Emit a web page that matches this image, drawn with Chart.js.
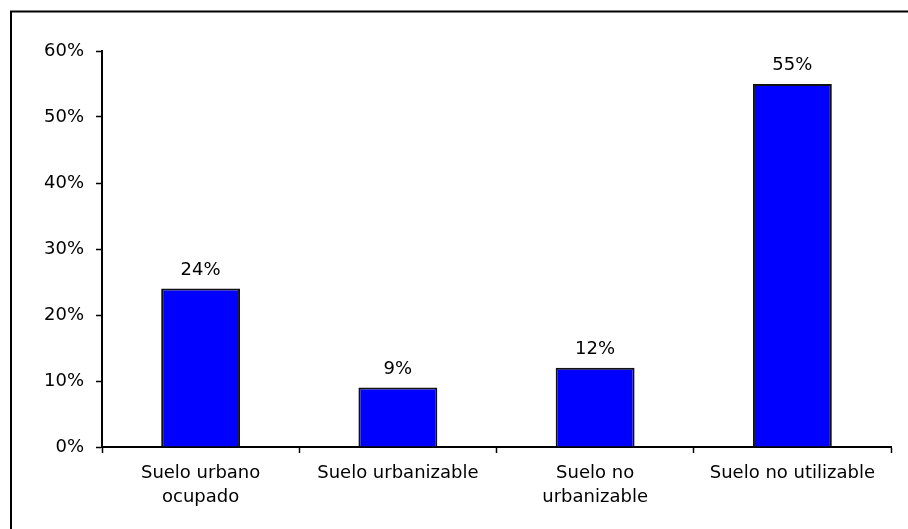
<!DOCTYPE html>
<html>
<head>
<meta charset="utf-8">
<script src="https://cdn.jsdelivr.net/npm/chart.js@4/dist/chart.umd.min.js"></script>
<style>
    html, body { margin: 0; padding: 0; background: #fff; }
    #box { width: 908px; height: 529px; }
</style>
</head>
<body>
<div id="box"><canvas id="suelo"></canvas></div>
<script>
const categorias = [
    ['Suelo urbano', 'ocupado'],
    'Suelo urbanizable',
    ['Suelo no', 'urbanizable'],
    'Suelo no utilizable'
]
const porcentajes = [24, 9, 12, 55]
const ticksY = [0, 10, 20, 30, 40, 50, 60]

const fuente = { family: "'DejaVu Sans', sans-serif", size: 18 }

// marco de la figura (solo borde izquierdo y superior visibles)
const marco = {
    id: 'marco',
    beforeDraw: (chart) => {
        const ctx = chart.ctx
        ctx.save()
        ctx.strokeStyle = '#000'
        ctx.lineWidth = 2
        ctx.beginPath()
        ctx.moveTo(11, 529)
        ctx.lineTo(11, 11.5)
        ctx.lineTo(908, 11.5)
        ctx.stroke()
        ctx.restore()
    }
}

// etiquetas de valor sobre las barras
const etiquetas = {
    id: 'etiquetas',
    afterDatasetsDraw: (chart) => {
        const ctx = chart.ctx
        const meta = chart.getDatasetMeta(0)
        ctx.save()
        ctx.font = `${fuente.size}px ${fuente.family}`
        ctx.fillStyle = '#000'
        ctx.textAlign = 'center'
        ctx.textBaseline = 'alphabetic'
        meta.data.forEach((bar, i) => {
            ctx.fillText(`${porcentajes[i]}%`, bar.x, bar.y - 14)
        })
        ctx.restore()
    }
}

const data = {
    labels: categorias,
    datasets: [
        {
            data: porcentajes,
            backgroundColor: '#0000ff',
            borderColor: '#111',
            borderWidth: 2,
            barPercentage: 0.4,
            categoryPercentage: 1,
        }
    ]
}

const options = {
    responsive: true,
    maintainAspectRatio: false,
    animation: false,
    layout: {
        padding: { left: 0, right: 17, top: 51, bottom: 0 }
    },
    plugins: {
        legend: { display: false },
        tooltip: { enabled: false },
    },
    scales: {
        x: {
            grid: {
                offset: true,
                drawOnChartArea: false,
                tickLength: 6,
                tickColor: '#000',
                tickWidth: 1.5,
            },
            border: { color: '#000', width: 2 },
            ticks: {
                color: '#000',
                font: { ...fuente, lineHeight: 1.35 },
                padding: 8,
                maxRotation: 0,
                autoSkip: false,
            },
            afterFit: (scale) => { scale.height = 82 },
        },
        y: {
            min: 0,
            max: 60,
            afterBuildTicks: (scale) => {
                scale.ticks = ticksY.map(v => ({ value: v }))
            },
            grid: {
                drawOnChartArea: false,
                tickLength: 6,
                tickColor: '#000',
                tickWidth: 1.5,
            },
            border: { color: '#000', width: 2 },
            ticks: {
                color: '#000',
                font: fuente,
                padding: 12,
                callback: (value) => `${value}%`,
            },
            afterFit: (scale) => { scale.width = 102 },
        }
    }
}

const config = {
    type: 'bar',
    data: data,
    options: options,
    plugins: [marco, etiquetas],
}

const sueloDoc = document.getElementById('suelo')
const sueloChart = new Chart(sueloDoc, config)
</script>
</body>
</html>
